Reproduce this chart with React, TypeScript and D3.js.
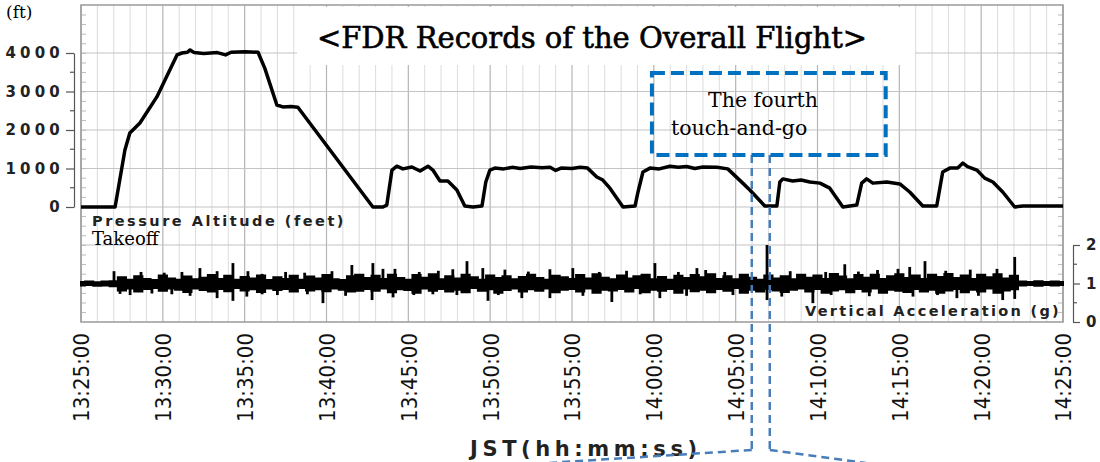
import React, { useEffect, useRef } from 'react';
import * as d3 from 'd3';

const W = 1100, H = 462;
const plot = { left: 81, right: 1063, top: 5, bottom: 322 };

// Pressure altitude trace (ft)
const altTimes = [
  "13:25:00", "13:27:05", "13:27:41", "13:27:59", "13:28:36", "13:29:38", "13:30:52", "13:31:10",
  "13:31:30", "13:31:40", "13:31:55", "13:32:30", "13:33:20", "13:33:50", "13:34:10", "13:35:00",
  "13:35:49", "13:36:14", "13:36:58", "13:37:20", "13:37:50", "13:38:15", "13:42:50", "13:43:27",
  "13:43:41", "13:44:00", "13:44:18", "13:44:40", "13:45:13", "13:45:43", "13:46:12", "13:46:30",
  "13:46:56", "13:47:25", "13:47:58", "13:48:27", "13:48:57", "13:49:30", "13:49:44", "13:49:59",
  "13:50:17", "13:50:50", "13:51:20", "13:51:50", "13:52:30", "13:53:10", "13:53:40", "13:54:00",
  "13:54:20", "13:55:00", "13:55:30", "13:55:57", "13:56:31", "13:56:53", "13:57:19", "13:58:07",
  "13:58:51", "13:59:02", "13:59:20", "13:59:46", "14:00:20", "14:00:59", "14:01:30", "14:02:00",
  "14:02:30", "14:03:00", "14:03:51", "14:04:31", "14:05:26", "14:05:52", "14:06:47", "14:07:31",
  "14:07:42", "14:07:53", "14:08:29", "14:09:00", "14:09:32", "14:10:09", "14:10:45", "14:11:33",
  "14:12:24", "14:12:42", "14:13:00", "14:13:23", "14:14:14", "14:15:02", "14:15:38", "14:16:26",
  "14:17:17", "14:17:39", "14:18:05", "14:18:34", "14:18:53", "14:19:10", "14:19:44", "14:20:13",
  "14:20:43", "14:21:19", "14:22:03", "14:22:33", "14:25:00"
];
const altFeet = [
  0, 0, 1480, 1920, 2180, 2860, 3950, 4000,
  4020, 4080, 4010, 3990, 4010, 3950, 4020, 4030,
  4020, 3600, 2650, 2600, 2610, 2590, 0, 0,
  50, 960, 1060, 990, 1040, 935, 1060, 960,
  675, 675, 440, 25, 0, 25, 650, 960,
  1010, 990, 1030, 1000, 1040, 1020, 1030, 950,
  1010, 1000, 1030, 1010, 780, 700, 490, 0,
  25, 390, 910, 1010, 990, 1060, 1030, 1050,
  1000, 1040, 1030, 990, 620, 440, 25, 25,
  650, 730, 675, 700, 650, 620, 490, 0,
  50, 620, 730, 620, 650, 600, 390, 25,
  25, 910, 1010, 1010, 1140, 1050, 960, 750,
  650, 390, 0, 25, 25
];

// Vertical acceleration band (g), one high/low pair every 30 s from 13:25:00
const accStart = "13:25:00";
const accStepSec = 30;
const accHigh = [
  1.04, 1.05, 1.03, 1.05, 1.06,
  1.16, 1.10, 1.19, 1.12, 1.09, 1.21, 1.13, 1.10, 1.18, 1.11, 1.15, 1.22, 1.12, 1.20, 1.10, 1.17,
  1.13, 1.21, 1.09, 1.16, 1.12, 1.20, 1.10, 1.18, 1.13, 1.22, 1.11, 1.09, 1.19, 1.23, 1.14,
  1.20, 1.12, 1.23, 1.14, 1.10, 1.22, 1.15, 1.24, 1.11, 1.19,
  1.13, 1.23, 1.16, 1.10, 1.21, 1.14, 1.19, 1.11, 1.17, 1.23,
  1.14, 1.10, 1.20, 1.16, 1.12, 1.22, 1.13, 1.24, 1.15, 1.11,
  1.21, 1.13, 1.19, 1.23, 1.11, 1.17, 1.10, 1.20, 1.14, 1.22,
  1.16, 1.24, 1.12, 1.19, 1.11, 1.23, 1.15, 1.10, 1.21, 1.13,
  1.19, 1.11, 1.23, 1.15, 1.21, 1.12, 1.25, 1.18, 1.11, 1.22,
  1.15, 1.23, 1.12, 1.19, 1.24, 1.14, 1.21, 1.12, 1.23, 1.17,
  1.25, 1.14, 1.21, 1.12, 1.23, 1.16, 1.24, 1.13, 1.20,
  1.05, 1.04, 1.06, 1.04, 1.05, 1.04
];
const accLow = [
  0.95, 0.96, 0.94, 0.95, 0.93,
  0.82, 0.87, 0.79, 0.86, 0.88, 0.81, 0.87, 0.84, 0.78, 0.87, 0.83, 0.79, 0.86, 0.80, 0.88, 0.82,
  0.85, 0.78, 0.87, 0.83, 0.86, 0.79, 0.88, 0.82, 0.85, 0.80, 0.87, 0.84, 0.79, 0.81, 0.86,
  0.81, 0.87, 0.77, 0.85, 0.83, 0.76, 0.87, 0.81, 0.86, 0.79,
  0.84, 0.77, 0.88, 0.81, 0.85, 0.76, 0.83, 0.87, 0.79, 0.85,
  0.81, 0.87, 0.77, 0.84, 0.86, 0.79, 0.87, 0.76, 0.84, 0.82,
  0.86, 0.79, 0.88, 0.77, 0.84, 0.81, 0.86, 0.76, 0.87, 0.80,
  0.84, 0.77, 0.86, 0.81, 0.88, 0.76, 0.84, 0.79, 0.86, 0.82,
  0.78, 0.84, 0.87, 0.79, 0.86, 0.76, 0.82, 0.85, 0.77, 0.86,
  0.79, 0.87, 0.76, 0.84, 0.81, 0.78, 0.86, 0.79, 0.84, 0.76,
  0.82, 0.86, 0.77, 0.84, 0.79, 0.87, 0.76, 0.82, 0.85,
  0.95, 0.96, 0.94, 0.96, 0.95, 0.96
];

// single spikes sticking out of the band
const spikeTimes = [
  "13:27:01", "13:32:16", "13:33:19", "13:34:17", "13:35:12", "13:36:04", "13:41:33", "13:42:50",
  "13:43:27", "13:44:11", "13:47:43", "13:48:35", "13:49:33", "13:50:54", "13:53:39", "13:55:03",
  "14:00:04", "14:02:38", "14:06:55", "14:11:40", "14:14:55", "14:15:38", "14:16:34", "14:20:58",
  "14:22:03",
  "13:28:40", "13:30:05", "13:31:10", "13:37:30", "13:38:40", "13:40:20", "13:45:40", "13:46:50",
  "13:52:20", "13:56:40", "13:58:20", "14:01:30", "14:03:10", "14:04:20", "14:08:20", "14:10:30",
  "14:12:30", "14:13:40", "14:17:50", "14:19:20",
  "13:27:23", "13:29:20", "13:30:33", "13:33:19", "13:34:17", "13:35:08", "13:36:04", "13:39:47",
  "13:42:47", "13:44:04", "13:46:30", "13:47:58", "13:49:52", "13:51:56", "13:53:39", "13:57:26",
  "14:00:22", "14:06:55", "14:07:49", "14:09:43", "14:15:50", "14:18:31", "14:21:19", "14:22:03",
  "13:28:00", "13:31:40", "13:37:00", "13:38:50", "13:41:10", "13:45:20", "13:50:30", "13:55:40",
  "13:59:10", "14:02:00", "14:04:50", "14:10:50", "14:13:10", "14:17:20", "14:19:50"
];
const spikeG = [
  1.32, 1.40, 1.32, 1.53, 1.32, 1.25, 1.48, 1.53,
  1.38, 1.38, 1.37, 1.58, 1.40, 1.36, 1.37, 1.40,
  1.53, 1.40, 2.00, 1.50, 1.38, 1.43, 1.58, 1.38,
  1.69,
  1.30, 1.28, 1.30, 1.30, 1.28, 1.32, 1.30, 1.33,
  1.31, 1.30, 1.33, 1.30, 1.35, 1.30, 1.32, 1.30,
  1.31, 1.35, 1.33, 1.36,
  0.73, 0.74, 0.72, 0.62, 0.55, 0.66, 0.72, 0.49,
  0.57, 0.64, 0.72, 0.70, 0.55, 0.62, 0.62, 0.52,
  0.62, 0.57, 0.66, 0.49, 0.66, 0.62, 0.57, 0.60,
  0.70, 0.68, 0.70, 0.72, 0.68, 0.70, 0.70, 0.68,
  0.72, 0.68, 0.70, 0.70, 0.67, 0.70, 0.68
];

const altTicks = [0, 1000, 2000, 3000, 4000];
const altMinorTicks = [500, 1500, 2500, 3500];
const accTicks = [0, 1, 2];
const accMinorTicks = [0.5, 1.5];
const timeTicks = [
  "13:25:00", "13:30:00", "13:35:00", "13:40:00", "13:45:00", "13:50:00", "13:55:00",
  "14:00:00", "14:05:00", "14:10:00", "14:15:00", "14:20:00", "14:25:00"
];

// "fourth touch-and-go" callout
const boxTimes = ["13:59:53", "14:14:10"];
const boxFeet = [3480, 1350];
const leaderTimes = ["14:05:59", "14:07:05"];

const parseT = d3.timeParse("%H:%M:%S");
const sans = "'DejaVu Sans', Verdana, sans-serif";
const serif = "'DejaVu Serif', 'Liberation Serif', serif";

function FdrChart() {
  const ref = useRef<SVGSVGElement>(null);

  useEffect(() => {
    const svg = d3.select(ref.current);
    svg.selectAll("*").remove();

    const x = d3.scaleTime()
      .domain([parseT(timeTicks[0]), parseT(timeTicks[timeTicks.length - 1])])
      .range([plot.left, plot.right]);
    const yAlt = d3.scaleLinear().domain([0, 4000]).range([207, 53]);
    const yAcc = d3.scaleLinear().domain([0, 2]).range([plot.bottom, 245]);

    // grid
    const grid = svg.append("g");
    const minutes = d3.timeMinute.range(x.domain()[0], d3.timeSecond.offset(x.domain()[1], 1));
    grid.selectAll(".vminor").data(minutes.filter(m => m.getMinutes() % 5 !== 0))
      .enter().append("line")
      .attr("x1", d => x(d)).attr("x2", d => x(d))
      .attr("y1", plot.top).attr("y2", plot.bottom)
      .attr("stroke", "#dcdcdc").attr("stroke-width", 1);
    grid.selectAll(".vmajor").data(timeTicks.map(parseT))
      .enter().append("line")
      .attr("x1", d => x(d)).attr("x2", d => x(d))
      .attr("y1", plot.top).attr("y2", plot.bottom)
      .attr("stroke", "#b5b5b5").attr("stroke-width", 1.2);
    grid.selectAll(".halt").data(altTicks)
      .enter().append("line")
      .attr("x1", plot.left).attr("x2", plot.right)
      .attr("y1", d => yAlt(d)).attr("y2", d => yAlt(d))
      .attr("stroke", "#c4c4c4").attr("stroke-width", 1.2);
    grid.selectAll(".hacc").data(accTicks.filter(d => d > 0))
      .enter().append("line")
      .attr("x1", plot.left).attr("x2", plot.right)
      .attr("y1", d => yAcc(d)).attr("y2", d => yAcc(d))
      .attr("stroke", "#c4c4c4").attr("stroke-width", 1.2);

    // small ticks inside the frame
    const frameTicks = d3.range(plot.top + 10, plot.bottom, 9.6);
    grid.selectAll(".ftl").data(frameTicks).enter().append("line")
      .attr("x1", plot.left).attr("x2", plot.left + 5)
      .attr("y1", d => d).attr("y2", d => d)
      .attr("stroke", "#bbb");
    grid.selectAll(".ftr").data(frameTicks).enter().append("line")
      .attr("x1", plot.right - 5).attr("x2", plot.right)
      .attr("y1", d => d).attr("y2", d => d)
      .attr("stroke", "#bbb");

    // frame
    svg.append("rect")
      .attr("x", plot.left).attr("y", plot.top)
      .attr("width", plot.right - plot.left).attr("height", plot.bottom - plot.top)
      .attr("fill", "none").attr("stroke", "#9a9a9a").attr("stroke-width", 1.5);

    // title panel
    svg.append("rect")
      .attr("x", 297).attr("y", 7).attr("width", 618).attr("height", 58)
      .attr("fill", "#fff");
    svg.append("text")
      .attr("x", 592).attr("y", 48)
      .attr("text-anchor", "middle")
      .attr("stroke", "#000").attr("stroke-width", 0.6)
      .style("font-family", serif).style("font-size", "29px")
      .text("<FDR Records of the Overall Flight>");

    // altitude trace
    const altData = altTimes.map((t, i) => ({ t: parseT(t), v: altFeet[i] }));
    svg.append("path")
      .datum(altData)
      .attr("d", d3.line<any>().x(d => x(d.t)).y(d => yAlt(d.v)))
      .attr("fill", "none").attr("stroke", "#000")
      .attr("stroke-width", 3.5).attr("stroke-linejoin", "round");

    // acceleration band
    const t0 = parseT(accStart);
    const accData = accHigh.map((h, i) => ({ t: d3.timeSecond.offset(t0, i * accStepSec), hi: h, lo: accLow[i] }));
    svg.append("path")
      .datum(accData)
      .attr("d", d3.area<any>().x(d => x(d.t)).y0(d => yAcc(d.lo)).y1(d => yAcc(d.hi)).curve(d3.curveStep))
      .attr("fill", "#000").attr("stroke", "#000").attr("stroke-width", 2);
    svg.selectAll(".spike").data(spikeTimes.map((t, i) => ({ t: parseT(t), v: spikeG[i] })))
      .enter().append("line")
      .attr("x1", d => x(d.t)).attr("x2", d => x(d.t))
      .attr("y1", yAcc(1)).attr("y2", d => yAcc(d.v))
      .attr("stroke", "#000").attr("stroke-width", 2.8);

    // left altitude axis
    const left = svg.append("g").attr("transform", "translate(74,0)");
    left.call(d3.axisLeft(yAlt).tickValues(altTicks).tickSize(8).tickSizeOuter(0).tickPadding(2).tickFormat(d3.format("d")));
    left.selectAll(".minor").data(altMinorTicks).enter().append("line")
      .attr("x1", -4).attr("x2", 0).attr("y1", d => yAlt(d)).attr("y2", d => yAlt(d));
    left.selectAll("line, path").attr("stroke", "#555").attr("stroke-width", 1.2);
    left.selectAll("text")
      .attr("fill", "#222")
      .style("font-family", sans).style("font-size", "15px").style("font-weight", "bold")
      .style("letter-spacing", "4.2px");

    // right acceleration axis
    const right = svg.append("g").attr("transform", "translate(1073,0)");
    right.call(d3.axisRight(yAcc).tickValues(accTicks).tickSize(7).tickSizeOuter(0).tickPadding(6).tickFormat(d3.format("d")));
    right.selectAll(".minor").data(accMinorTicks).enter().append("line")
      .attr("x1", 0).attr("x2", 4).attr("y1", d => yAcc(d)).attr("y2", d => yAcc(d));
    right.selectAll("line, path").attr("stroke", "#555").attr("stroke-width", 1.2);
    right.selectAll("text")
      .attr("fill", "#222")
      .style("font-family", sans).style("font-size", "15px").style("font-weight", "bold");

    // time axis, rotated labels
    const bottom = svg.append("g").attr("transform", `translate(0,${plot.bottom})`);
    bottom.call(d3.axisBottom(x).tickValues(timeTicks.map(parseT)).tickSize(0).tickFormat(d3.timeFormat("%H:%M:%S") as any));
    bottom.select(".domain").remove();
    bottom.selectAll("text")
      .attr("transform", "rotate(-90)")
      .attr("text-anchor", "end")
      .attr("x", -11).attr("y", 0).attr("dy", "0.36em")
      .attr("fill", "#111")
      .style("font-family", sans).style("font-stretch", "condensed").style("font-size", "22px");

    // labels
    svg.append("text").attr("x", 6).attr("y", 18)
      .style("font-family", serif).style("font-size", "17px").text("(ft)");
    svg.append("text").attr("x", 92).attr("y", 226)
      .style("font-family", sans).style("font-size", "14.5px").style("font-weight", "bold")
      .style("letter-spacing", "2.5px").attr("fill", "#222")
      .text("Pressure Altitude (feet)");
    svg.append("text").attr("x", 92).attr("y", 245)
      .style("font-family", serif).style("font-size", "18px").text("Takeoff");
    svg.append("text").attr("x", 1061).attr("y", 316).attr("text-anchor", "end")
      .style("font-family", sans).style("font-size", "14.5px").style("font-weight", "bold")
      .style("letter-spacing", "2.3px").attr("fill", "#222")
      .text("Vertical Acceleration (g)");
    svg.append("text").attr("x", 470).attr("y", 456)
      .style("font-family", sans).style("font-size", "21px").style("font-weight", "bold")
      .style("letter-spacing", "4.6px").attr("fill", "#222")
      .text("JST(hh:mm:ss)");

    // callout box and leader lines
    const bx0 = x(parseT(boxTimes[0])), bx1 = x(parseT(boxTimes[1]));
    const by0 = yAlt(boxFeet[0]), by1 = yAlt(boxFeet[1]);
    const lx = leaderTimes.map(t => x(parseT(t)));
    const leaderColor = "#4a7ebb";
    const leaders = [
      [lx[0], by1, lx[0], 450], [lx[1], by1, lx[1], 450],
      [lx[0], 450, 548, 463], [lx[1], 450, 866, 463]
    ];
    svg.selectAll(".leader").data(leaders).enter().append("line")
      .attr("x1", d => d[0]).attr("y1", d => d[1]).attr("x2", d => d[2]).attr("y2", d => d[3])
      .attr("stroke", leaderColor).attr("stroke-width", 2.5).attr("stroke-dasharray", "8 5");
    svg.append("rect")
      .attr("x", bx0).attr("y", by0).attr("width", bx1 - bx0).attr("height", by1 - by0)
      .attr("fill", "none").attr("stroke", "#0070c0").attr("stroke-width", 4)
      .attr("stroke-dasharray", "13 6");
    svg.append("text").attr("x", 763).attr("y", 107).attr("text-anchor", "middle")
      .style("font-family", serif).style("font-size", "20.5px").text("The fourth");
    svg.append("text").attr("x", 671).attr("y", 135)
      .style("font-family", serif).style("font-size", "20.5px").text("touch-and-go");
  }, []);

  return <svg ref={ref} width={W} height={H} style={{ position: "absolute", left: 0, top: 0, background: "#fff" }} />;
}

export default function App() {
  return <FdrChart />;
}
